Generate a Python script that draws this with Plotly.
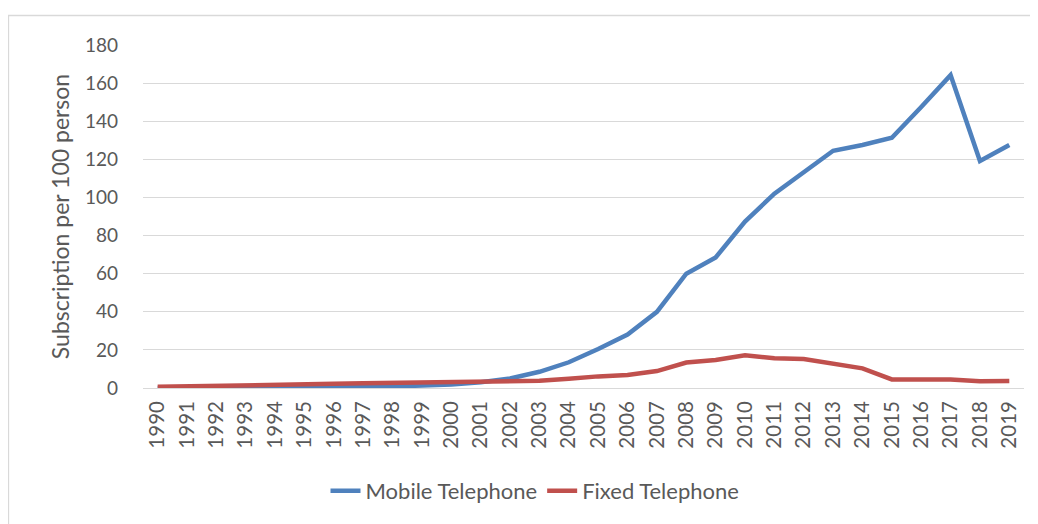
import plotly.graph_objects as go

years = [str(y) for y in range(1990, 2020)]
mobile = [0.0, 0.02, 0.04, 0.06, 0.1, 0.2, 0.3, 0.5, 0.8, 1.2,
          1.8, 3.0, 5.0, 8.5, 13.5, 20.5, 28.0, 40.0, 60.0, 68.5,
          87.3, 102.0, 113.5, 124.5, 127.5, 131.3, 147.5, 164.2, 119.1, 127.5]
fixed = [0.6, 0.8, 0.9, 1.1, 1.4, 1.8, 2.2, 2.5, 2.7, 2.9,
         3.2, 3.5, 3.8, 3.8, 4.8, 6.1, 6.8, 8.9, 13.4, 14.7,
         17.2, 15.6, 15.2, 12.9, 10.3, 4.5, 4.5, 4.4, 3.5, 3.7]
yticks = [0, 20, 40, 60, 80, 100, 120, 140, 160, 180]

FONT = "Lato"
GRAY = "#595959"

fig = go.Figure()
fig.add_trace(go.Scatter(x=years, y=mobile, mode="lines", name="Mobile Telephone",
                         line=dict(color="#4F81BD", width=4.5)))
fig.add_trace(go.Scatter(x=years, y=fixed, mode="lines", name="Fixed Telephone",
                         line=dict(color="#C0504D", width=4.5)))

OFF = 8  # page body margin
W, H = 1038 - OFF, 524 - OFF
L, R, T = 143 - OFF, 14, 45 - OFF
B = H - (388 - OFF)
pw, ph = W - L - R, H - T - B

def px(x):
    return (x - OFF - L) / pw

def py(y):
    return (H - B - (y - OFF)) / ph

fig.update_layout(
    width=W, height=H,
    margin=dict(l=L, r=R, t=T, b=B),
    paper_bgcolor="white", plot_bgcolor="white",
    font=dict(family=FONT, size=19, color=GRAY),
    showlegend=True,
    legend=dict(orientation="h", x=px(535), y=py(491), xanchor="center", yanchor="middle",
                font=dict(family=FONT, size=22, color=GRAY),
                tracegroupgap=0),
    xaxis=dict(type="category", range=[-0.5, 29.5], tickangle=-90,
               showgrid=False, showline=False, ticks="",
               tickfont=dict(family=FONT, size=20.5, color=GRAY), ticklabelstandoff=8),
    yaxis=dict(range=[0, 180], tickvals=yticks, showgrid=True, gridcolor="#D9D9D9",
               gridwidth=1.3, zeroline=True, zerolinecolor="#D9D9D9", zerolinewidth=1.3,
               showline=False, ticks="",
               tickfont=dict(family=FONT, size=19, color=GRAY), ticklabelstandoff=24,
               title=dict(text="Subscription per 100 person", standoff=8,
                          font=dict(family=FONT, size=23, color=GRAY))),
    shapes=[dict(type="rect", xref="paper", yref="paper",
                 x0=px(8.5), x1=px(1045), y0=py(15.5), y1=py(535),
                 line=dict(color="#D9D9D9", width=1.3), fillcolor="rgba(0,0,0,0)", layer="below")],
)

fig.write_html("out.html")
